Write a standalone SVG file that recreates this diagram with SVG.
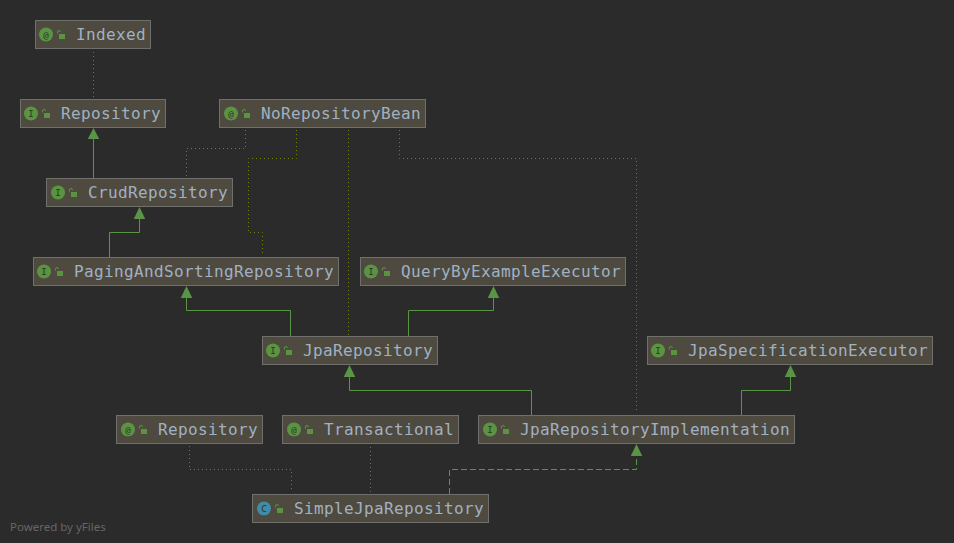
<svg xmlns="http://www.w3.org/2000/svg" width="954" height="543" viewBox="0 0 954 543">
<style>
.box{fill:#4e4a3f;stroke:#6f6f6b;stroke-width:1}
.t{font-family:"DejaVu Sans Mono",monospace;font-size:16px;fill:#a0b1c4;letter-spacing:0.37px}
.ic{fill:#5a9440}
.ii{font-family:"DejaVu Sans Mono",monospace;font-size:9px;fill:#2f2f2f;text-anchor:middle}
.lk{fill:#5a9440}
.ls{fill:none;stroke:#5a9440;stroke-width:1}
.s{fill:none;stroke:#5a9445;stroke-width:1}
.d{fill:none;stroke:#757f10;stroke-width:1;stroke-dasharray:1 3}
.h{fill:none;stroke:#5a9445;stroke-width:1;stroke-dasharray:6 3}
.a{fill:#5a9445}
.pw{font-family:"Noto Sans",sans-serif;font-size:11.500px;fill:#666666}
</style>
<defs>
<g id="lock"><rect class="lk" x="2" y="2" width="6" height="5"/><path class="ls" d="M0.500 1.500v-1.500a1.500 1.500 0 0 1 3 0"/></g>
</defs>
<rect width="954" height="543" fill="#2b2b2b"/>
<g id="connectors">
<path class="d" d="M93.500 52V97"/>
<path class="s" d="M93.500 178V138"/><polygon class="a" points="93.500,128 87.750,139 99.250,139"/>
<path class="d" d="M245.500 130V148.500H186.500V176"/>
<path class="d" d="M296.500 130V158.500H248.500V232.500H262.500V255"/>
<path class="d" d="M348.500 130V335"/>
<path class="d" d="M399.500 130V158.500H636.500V413"/>
<path class="s" d="M109.500 257V232.500H139.500V218"/><polygon class="a" points="139.500,207 133.750,219 145.250,219"/>
<path class="s" d="M290.500 336V310.500H186.500V297"/><polygon class="a" points="186.500,286 180.750,298 192.250,298"/>
<path class="s" d="M408.500 336V310.500H493.500V297"/><polygon class="a" points="493.500,286 487.750,298 499.250,298"/>
<path class="s" d="M531.500 415V390.500H349.500V376"/><polygon class="a" points="349.500,365 343.750,377 355.250,377"/>
<path class="s" d="M741.500 415V390.500H790.500V376"/><polygon class="a" points="790.500,365 784.750,377 796.250,377"/>
<path class="d" d="M189.500 446V469.500H291.500V492"/>
<path class="d" d="M370.500 447V492"/>
<path class="h" d="M449.500 494V469.500H636.500V455"/><polygon class="a" points="636.500,444 630.750,456 642.250,456"/>
</g>
<g id="n1"><rect class="box" x="35.500" y="20.500" width="115" height="28"/><circle class="ic" cx="46" cy="34.500" r="7"/><text class="ii" x="46" y="37.500">@</text><use href="#lock" x="57" y="32"/><text class="t" x="76" y="39.500">Indexed</text></g>
<g id="n2"><rect class="box" x="20.500" y="99.500" width="145" height="28"/><circle class="ic" cx="31" cy="113.500" r="7"/><text class="ii" x="31" y="116.500">I</text><use href="#lock" x="42" y="111"/><text class="t" x="61" y="118.500">Repository</text></g>
<g id="n3"><rect class="box" x="219.500" y="99.500" width="206" height="28"/><circle class="ic" cx="231" cy="113.500" r="7"/><text class="ii" x="231" y="116.500">@</text><use href="#lock" x="242" y="111"/><text class="t" x="261" y="118.500">NoRepositoryBean</text></g>
<g id="n4"><rect class="box" x="46.500" y="178.500" width="186" height="28"/><circle class="ic" cx="58" cy="192.500" r="7"/><text class="ii" x="58" y="195.500">I</text><use href="#lock" x="69" y="190"/><text class="t" x="88" y="197.500">CrudRepository</text></g>
<g id="n5"><rect class="box" x="33.500" y="257.500" width="305" height="28"/><circle class="ic" cx="44" cy="271.500" r="7"/><text class="ii" x="44" y="274.500">I</text><use href="#lock" x="55" y="269"/><text class="t" x="74" y="276.500">PagingAndSortingRepository</text></g>
<g id="n6"><rect class="box" x="360.500" y="257.500" width="265" height="28"/><circle class="ic" cx="371" cy="271.500" r="7"/><text class="ii" x="371" y="274.500">I</text><use href="#lock" x="382" y="269"/><text class="t" x="401" y="276.500">QueryByExampleExecutor</text></g>
<g id="n7"><rect class="box" x="262.500" y="336.500" width="175" height="28"/><circle class="ic" cx="273" cy="350.500" r="7"/><text class="ii" x="273" y="353.500">I</text><use href="#lock" x="284" y="348"/><text class="t" x="303" y="355.500">JpaRepository</text></g>
<g id="n8"><rect class="box" x="647.500" y="336.500" width="285" height="28"/><circle class="ic" cx="658" cy="350.500" r="7"/><text class="ii" x="658" y="353.500">I</text><use href="#lock" x="669" y="348"/><text class="t" x="688" y="355.500">JpaSpecificationExecutor</text></g>
<g id="n9"><rect class="box" x="116.500" y="415.500" width="146" height="28"/><circle class="ic" cx="128" cy="429.500" r="7"/><text class="ii" x="128" y="432.500">@</text><use href="#lock" x="139" y="427"/><text class="t" x="158" y="434.500">Repository</text></g>
<g id="n10"><rect class="box" x="282.500" y="415.500" width="176" height="28"/><circle class="ic" cx="294" cy="429.500" r="7"/><text class="ii" x="294" y="432.500">@</text><use href="#lock" x="305" y="427"/><text class="t" x="324" y="434.500">Transactional</text></g>
<g id="n11"><rect class="box" x="478.500" y="415.500" width="316" height="28"/><circle class="ic" cx="490" cy="429.500" r="7"/><text class="ii" x="490" y="432.500">I</text><use href="#lock" x="501" y="427"/><text class="t" x="520" y="434.500">JpaRepositoryImplementation</text></g>
<g id="n12"><rect class="box" x="252.500" y="494.500" width="236" height="28"/><circle cx="264" cy="508.500" r="7" fill="#3f8ca8"/><text class="ii" x="264" y="511.500">C</text><use href="#lock" x="275" y="506"/><text class="t" x="294" y="513.500">SimpleJpaRepository</text></g>
<text class="pw" x="10" y="531">Powered by yFiles</text>
</svg>
